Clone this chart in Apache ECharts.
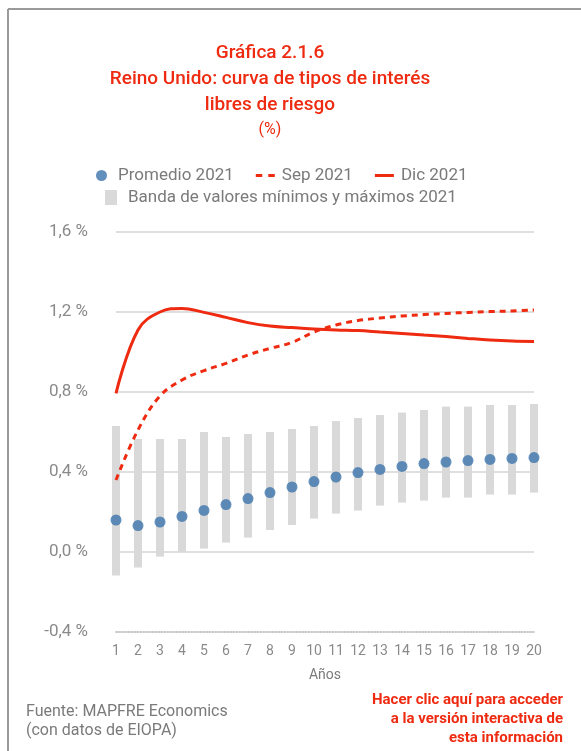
<!DOCTYPE html>
<html>
<head>
<meta charset="utf-8">
<script src="https://cdn.jsdelivr.net/npm/echarts@6/dist/echarts.min.js"></script>
<style>
  html, body { margin: 0; padding: 0; background: #fff; }
  #chart { width: 581px; height: 751px; }
</style>
</head>
<body>
<div id="chart"></div>
<script>
// Maturity in years
const years = ['1','2','3','4','5','6','7','8','9','10','11','12','13','14','15','16','17','18','19','20'];

// 2021 average risk-free rate (%)
const promedio2021 = [0.16, 0.132, 0.15, 0.178, 0.208, 0.237, 0.267, 0.297, 0.325, 0.352,
                      0.375, 0.397, 0.413, 0.428, 0.442, 0.45, 0.457, 0.463, 0.468, 0.472];

// September 2021 curve (%)
const sep2021 = [0.36, 0.61, 0.78, 0.86, 0.907, 0.943, 0.985, 1.018, 1.048, 1.10,
                 1.135, 1.157, 1.17, 1.18, 1.187, 1.193, 1.198, 1.202, 1.205, 1.21];

// December 2021 curve (%)
const dic2021 = [0.793, 1.11, 1.20, 1.218, 1.198, 1.173, 1.147, 1.13, 1.122, 1.115,
                 1.11, 1.107, 1.10, 1.093, 1.085, 1.077, 1.068, 1.06, 1.055, 1.053];

// 2021 min / max band (%)
const banda2021Min = [-0.118, -0.078, -0.023, 0.0, 0.017, 0.047, 0.072, 0.11, 0.135, 0.167,
                      0.192, 0.207, 0.232, 0.247, 0.257, 0.272, 0.272, 0.287, 0.287, 0.297];
const banda2021Max = [0.63, 0.565, 0.565, 0.565, 0.60, 0.575, 0.59, 0.60, 0.615, 0.63,
                      0.655, 0.67, 0.685, 0.697, 0.71, 0.727, 0.727, 0.735, 0.735, 0.74];

const RED = '#ee2a10';
const BLUE = '#3b73ab';
const BAND = '#d9d9d9';
const GREY_TEXT = '#7a7a7a';
const FONT = 'Roboto, "Noto Sans", sans-serif';

// legend glyphs: two short dashes, and a solid bar
const ICON_DASHED = 'path://M0,0h6.5v3h-6.5z M12.5,0h6.5v3h-6.5z';
const ICON_SOLID = 'path://M0,0h19v3h-19z';

const bandData = years.map((y, i) => [i, banda2021Max[i], banda2021Min[i]]);

const chart = echarts.init(document.getElementById('chart'), null, { renderer: 'canvas' });

chart.setOption({
  animation: false,
  textStyle: { fontFamily: FONT },
  title: {
    left: 270,
    top: 40,
    textAlign: 'center',
    padding: 0,
    itemGap: 2,
    text: 'Gráfica 2.1.6\nReino Unido: curva de tipos de interés\nlibres de riesgo',
    textStyle: { color: RED, fontSize: 19, fontWeight: 500, lineHeight: 26, fontFamily: FONT },
    subtext: '(%)',
    subtextStyle: { color: RED, fontSize: 16, lineHeight: 20, fontFamily: FONT }
  },
  legend: [
    {
      left: 91,
      top: 162,
      itemWidth: 19,
      itemHeight: 11,
      itemGap: 22,
      textStyle: { color: GREY_TEXT, fontSize: 17, padding: [0, 0, 0, 2], fontFamily: FONT },
      data: [
        { name: 'Promedio 2021', icon: 'circle' },
        { name: 'Sep 2021', icon: ICON_DASHED },
        { name: 'Dic 2021', icon: ICON_SOLID }
      ]
    },
    {
      left: 100,
      top: 184,
      itemWidth: 12,
      itemHeight: 15,
      textStyle: { color: GREY_TEXT, fontSize: 17, padding: [0, 0, 0, 6], fontFamily: FONT },
      data: [{ name: 'Banda de valores mínimos y máximos 2021', icon: 'rect' }]
    }
  ],
  grid: {
    left: 116,
    right: 47,
    top: 232,
    bottom: 119,
    containLabel: false,
    outerBoundsMode: 'none'
  },
  xAxis: {
    type: 'category',
    data: years,
    boundaryGap: false,
    name: 'Años',
    nameLocation: 'middle',
    nameGap: 36,
    nameTextStyle: { color: GREY_TEXT, fontSize: 14 },
    axisLine: { show: true, onZero: false, lineStyle: { color: '#b5b5b5', type: 'dotted', width: 1.5 } },
    axisTick: { show: false },
    axisLabel: { color: '#8a8a8a', fontSize: 14, margin: 12, interval: 0 },
    splitLine: { show: false }
  },
  yAxis: {
    type: 'value',
    min: -0.4,
    max: 1.6,
    interval: 0.4,
    axisLine: { show: false },
    axisTick: { show: false },
    axisLabel: {
      color: '#8a8a8a',
      fontSize: 17,
      margin: 28,
      formatter: v => v.toFixed(1).replace('.', ',') + ' %'
    },
    splitLine: { show: true, showMinLine: false, lineStyle: { color: '#d4d4d4', width: 1.5 } }
  },
  series: [
    {
      name: 'Banda de valores mínimos y máximos 2021',
      type: 'custom',
      data: bandData,
      encode: { x: 0, y: [1, 2] },
      itemStyle: { color: BAND },
      z: 1,
      renderItem: (params, api) => {
        const top = api.coord([api.value(0), api.value(1)]);
        const bottom = api.coord([api.value(0), api.value(2)]);
        const w = 8;
        return {
          type: 'rect',
          shape: { x: top[0] - w / 2, y: top[1], width: w, height: bottom[1] - top[1] },
          style: { fill: BAND }
        };
      }
    },
    {
      name: 'Promedio 2021',
      type: 'scatter',
      data: promedio2021,
      symbol: 'circle',
      symbolSize: 11,
      itemStyle: { color: BLUE },
      z: 3
    },
    {
      name: 'Sep 2021',
      type: 'line',
      data: sep2021,
      smooth: 0.4,
      showSymbol: false,
      symbol: 'none',
      lineStyle: { color: RED, width: 3, type: [6, 5] },
      itemStyle: { color: RED },
      z: 4
    },
    {
      name: 'Dic 2021',
      type: 'line',
      data: dic2021,
      smooth: 0.4,
      showSymbol: false,
      symbol: 'none',
      lineStyle: { color: RED, width: 3 },
      itemStyle: { color: RED },
      z: 5
    }
  ],
  graphic: [
    // frame
    { type: 'line', shape: { x1: 8, y1: 9, x2: 581, y2: 9 }, style: { stroke: '#9a9a9a', lineWidth: 2 } },
    { type: 'line', shape: { x1: 8, y1: 9, x2: 8, y2: 751 }, style: { stroke: '#9a9a9a', lineWidth: 2 } },
    // source
    {
      type: 'text', x: 26, y: 702,
      style: { text: 'Fuente: MAPFRE Economics\n(con datos de EIOPA)', fill: GREY_TEXT, font: '16px ' + FONT, lineHeight: 19 }
    },
    // link note
    {
      type: 'text', x: 563, y: 691,
      style: { text: 'Hacer clic aquí para acceder\na la versión interactiva de\nesta información', fill: RED, font: 'bold 15px ' + FONT, lineHeight: 19, align: 'right' }
    }
  ]
});
</script>
</body>
</html>
